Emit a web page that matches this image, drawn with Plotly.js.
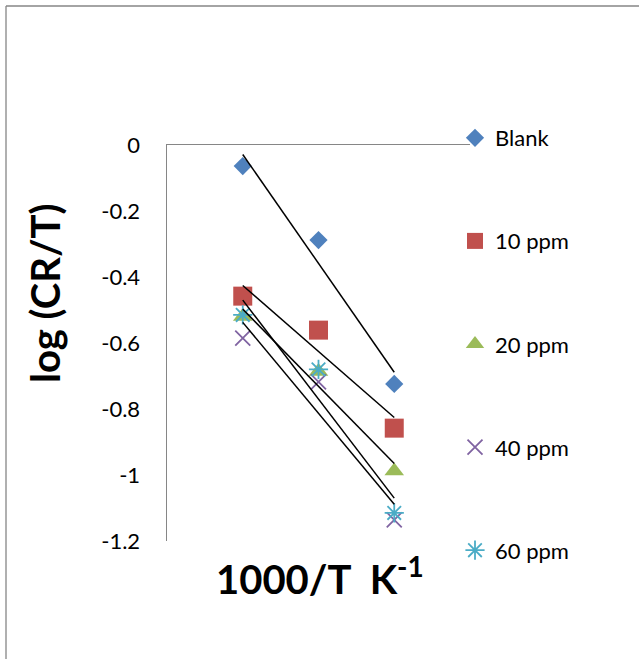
<!DOCTYPE html>
<html>
<head>
<meta charset="utf-8">
<script src="https://cdn.plot.ly/plotly-3.0.1.min.js"></script>
<style>
  html, body { margin: 0; padding: 0; background: #fff; }
  #chart { width: 639px; height: 659px; }
</style>
</head>
<body>
<div id="chart"></div>
<script>
// ---- data ----
const xVals = [1, 2, 3];               // three 1000/T positions (no tick labels shown)
const seriesNames = ["Blank", "10 ppm", "20 ppm", "40 ppm", "60 ppm"];
const blank  = [-0.064, -0.288, -0.724];
const ppm10  = [-0.458, -0.561, -0.858];
const ppm20  = [-0.520, -0.686, -0.988];
const ppm40  = [-0.585, -0.718, -1.136];
const ppm60  = [-0.515, -0.680, -1.115];
const yTicks = [0, -0.2, -0.4, -0.6, -0.8, -1, -1.2];
const yTickText = ["0", "-0.2", "-0.4", "-0.6", "-0.8", "-1", "-1.2"];

const seriesValues = [blank, ppm10, ppm20, ppm40, ppm60];
const colors  = ["#4F81BD", "#C0504D", "#9BBB59", "#8064A2", "#4BACC6"];
const symbols = ["diamond", "square", "triangle-up", "x-thin-open", "asterisk-open"];
const sizes   = [14, 19, 17, 15, 16];

function linfit(x, y) {
  const n = x.length;
  const mx = x.reduce((a, b) => a + b, 0) / n;
  const my = y.reduce((a, b) => a + b, 0) / n;
  let sxy = 0, sxx = 0;
  for (let i = 0; i < n; i++) { sxy += (x[i] - mx) * (y[i] - my); sxx += (x[i] - mx) ** 2; }
  const m = sxy / sxx;
  return { m: m, b: my - m * mx };
}

const traces = [];
seriesValues.forEach((ys, i) => {
  traces.push({
    type: "scatter", mode: "markers", name: seriesNames[i],
    x: xVals, y: ys, legendgroup: "g" + i,
    marker: { symbol: symbols[i], size: sizes[i], color: colors[i],
              line: { color: colors[i], width: (i >= 3 ? 1.8 : 0) } },
    cliponaxis: false
  });
});
seriesValues.forEach((ys, i) => {
  const f = linfit(xVals, ys);
  const x0 = xVals[0], x1 = xVals[xVals.length - 1];
  traces.push({
    type: "scatter", mode: "lines", showlegend: false, hoverinfo: "skip",
    x: [x0, x1], y: [f.m * x0 + f.b, f.m * x1 + f.b],
    line: { color: "#000", width: 1.5 }
  });
});

const L = 167, R = 470, T = 145, B = 541, W = 639, H = 659;
const px = v => (v - L) / (R - L);
const py = v => (B - v) / (B - T);

const layout = {
  width: W, height: H,
  margin: { l: L, r: W - R, t: T, b: H - B, pad: 0 },
  paper_bgcolor: "#fff", plot_bgcolor: "rgba(0,0,0,0)",
  font: { family: "Lato, 'Open Sans', sans-serif", size: 22, color: "#000" },
  showlegend: true,
  xaxis: {
    range: [0, 4], side: "top", showline: true, linecolor: "#868686", linewidth: 1.5,
    showgrid: false, zeroline: false, showticklabels: false, ticks: "", fixedrange: true
  },
  yaxis: {
    range: [-1.2, 0], tickvals: yTicks, ticktext: yTickText,
    showline: true, linecolor: "#868686", linewidth: 1.5, mirror: false,
    showgrid: false, zeroline: false, ticks: "", ticklabelstandoff: 21,
    tickfont: { family: "Lato, sans-serif", size: 22, color: "#000" }, fixedrange: true
  },
  legend: {
    x: px(455), xanchor: "left", y: py(117), yanchor: "top",
    traceorder: "grouped", tracegroupgap: 71.5, maxheight: 640,
    font: { family: "Lato, sans-serif", size: 22, color: "#000" },
    bgcolor: "rgba(0,0,0,0)", borderwidth: 0, itemwidth: 30
  },
  annotations: [
    { text: "<b>log (CR/T)</b>", textangle: -90, xref: "paper", yref: "paper",
      x: px(45), y: py(293), xanchor: "center", yanchor: "middle", showarrow: false,
      font: { family: "Lato, sans-serif", size: 40, color: "#000" } },
    { text: "<b>1000/T  K<sup>-1</sup></b>", xref: "paper", yref: "paper",
      x: px(320), y: py(576), xanchor: "center", yanchor: "middle", showarrow: false,
      font: { family: "Lato, sans-serif", size: 40, color: "#000" } }
  ],
  shapes: [
    { type: "line", xref: "paper", yref: "paper", x0: px(6), x1: px(6), y0: py(6), y1: py(700),
      line: { color: "#868686", width: 1.3 } },
    { type: "line", xref: "paper", yref: "paper", x0: px(6), x1: px(700), y0: py(6), y1: py(6),
      line: { color: "#868686", width: 1.3 } }
  ]
};

Plotly.newPlot("chart", traces, layout, { displayModeBar: false, staticPlot: true });
</script>
</body>
</html>
